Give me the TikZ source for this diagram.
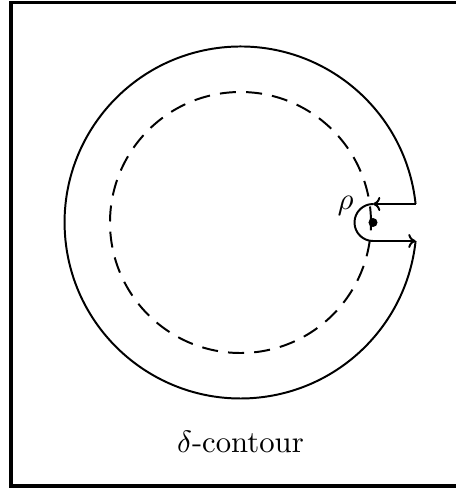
\documentclass[tikz,border=0pt]{standalone}
\usetikzlibrary{arrows.meta,positioning,calc}
\begin{document}
\begin{tikzpicture}[x=0.355pt,y=0.355pt,
frame/.style={line width=1.1pt},
contour/.style={line width=0.7pt},
guide/.style={line width=0.7pt,dash pattern=on 5.7pt off 3.6pt},
arr/.style={-{To[length=2.6pt,width=5pt]},line width=0.7pt},
pole/.style={circle,fill,inner sep=0pt,minimum size=3.2pt},
lbl/.style={font=\fontsize{10.9pt}{13pt}\selectfont}]
\useasboundingbox (-240.5,-267.5) rectangle (215.5,222.5);
\clip (-240.5,-267.5) rectangle (215.5,222.5);
\draw[frame] (-229.5,-263.5) rectangle (300,220);
% dashed circle and the big contour
\draw[guide] (0,0) circle[radius=130.5];
\coordinate (outtop) at (175.1,18.5);
\coordinate (outbot) at (175.1,-18.5);
\coordinate (intop) at (132.5,18.5);
\coordinate (inbot) at (132.5,-18.5);
\draw[contour] (outtop) arc[start angle=6.03,end angle=353.97,radius=176];
\draw[contour] (intop) arc[start angle=90,end angle=270,radius=18.5];
\draw[arr] (outtop) -- (intop);
\draw[arr] (inbot) -- (outbot);
\node[pole] (pole) at (132.5,0) {};
\node[lbl] (rholabel) at (105,17) {$\rho$};
\node[lbl] (caption) at (0,-219.5) {$\delta$-contour};
\end{tikzpicture}
\end{document}
